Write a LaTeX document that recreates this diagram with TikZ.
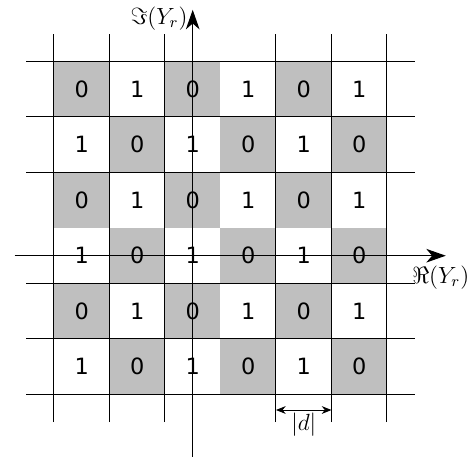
\documentclass[tikz,border=0pt]{standalone}
\usepackage{fontspec}
\newfontfamily\bitfont{DejaVu Sans}
\usetikzlibrary{arrows.meta,positioning}

\begin{document}
\begin{tikzpicture}[
    line width=0.5pt,
    bit/.style={font=\bitfont\fontsize{11.5}{13}\selectfont},
    axislabel/.style={font=\fontsize{12}{14}\selectfont, inner sep=1pt},
    axis/.style={-{Stealth[length=10pt,width=7pt,inset=3pt]}},
    dimarrow/.style={{Stealth[length=5pt,width=4pt]}-{Stealth[length=5pt,width=4pt]}}
  ]
  \useasboundingbox (-3.472,-3.681) rectangle (5.032,4.607);

  % Cells: gray where the bit is 0
  \foreach \c in {0,...,5}
    \foreach \r in {0,...,5} {
      \pgfmathtruncatemacro{\b}{mod(\c+\r,2)}
      \ifnum\b=0
        \fill[black!25] (\c-2.5,2.5-\r) rectangle ++(1,1);
      \fi
      \node[bit] (bit-\c-\r) at (\c-2,3-\r) {\b};
    }

  % Grid (no line at 0.5)
  \foreach \x in {-2.5,-1.5,-0.5,1.5,2.5,3.5}
    \draw (\x,-3) -- (\x,4);
  \foreach \y in {3.5,2.5,1.5,-0.5,-1.5,-2.5}
    \draw (-3,\y) -- (4,\y);

  % Axes
  \coordinate (imfoot) at (0,-3.62);
  \coordinate (imtip) at (0,4.43);
  \coordinate (refoot) at (-3.21,0);
  \coordinate (retip) at (4.56,0);
  \draw[axis] (imfoot) -- (imtip);
  \draw[axis] (refoot) -- (retip);

  % Axis labels
  \node[axislabel, left=0.05cm of imtip, yshift=-4.5pt] (imlabel) {$\Im(Y_r)$};
  \node[axislabel, below=0.135cm of retip, xshift=-0.09cm] (relabel) {$\Re(Y_r)$};

  % Spacing |d|
  \coordinate (dleft) at (1.5,-2.78);
  \coordinate (dright) at (2.5,-2.78);
  \draw[dimarrow] (dleft) -- node[axislabel, below] (dlabel) {$|d|$} (dright);
\end{tikzpicture}
\end{document}
